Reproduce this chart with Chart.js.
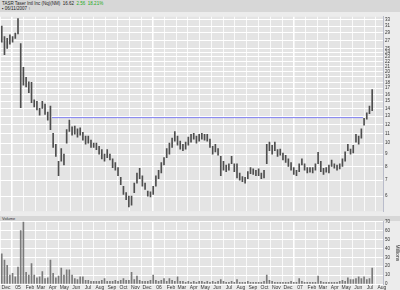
<!DOCTYPE html>
<html>
<head>
<meta charset="utf-8">
<script src="https://cdn.jsdelivr.net/npm/chart.js@4.4.1/dist/chart.umd.min.js"></script>
<style>
  html, body { margin: 0; padding: 0; width: 400px; height: 290px; overflow: hidden; background: #ececec; font-family: "Liberation Sans", Arial, sans-serif; }
  #head { position: absolute; left: 0; top: 0; width: 400px; height: 12px; background: #d7d7d7; color: #222; font-size: 4.5px; line-height: 5px; }
  #head .l1 { position: absolute; left: 2px; top: 1px; white-space: pre; }
  #head .l2 { position: absolute; left: 2px; top: 6px; white-space: pre; }
  #head .up { color: #22aa22; }
  #volbar { position: absolute; left: 0; top: 216px; width: 400px; height: 5px; background: #d7d7d7; font-size: 4px; line-height: 5px; color: #333; }
  #volbar span { position: absolute; left: 2px; top: 0; }
  .box { position: absolute; left: 0; width: 400px; }
  #pbox { top: 12px; height: 204px; }
  #vbox { top: 217px; height: 73px; }
</style>
</head>
<body>
<div id="head">
  <div class="l1">TASR Taser Intl Inc (Nq)(NM)  16.62  <span class="up">2.56  18.21%</span></div>
  <div class="l2">▪ 06/11/2007 ↑</div>
</div>
<div class="box" id="pbox"><canvas id="price"></canvas></div>
<div id="volbar"><span>Volume</span></div>
<div class="box" id="vbox"><canvas id="volume"></canvas></div>
<script>
// weekly bars, x in days from 1 Jan 2005; first week is 19 Nov 2004
const firstWeek = -42;

const priceLow = [
  26.5, 23.5, 25, 26, 26.5, 27.5, 28.7, 14.1, 17.5, 17.2,
  16.3, 14.8, 14.2, 13.8, 13.1, 14.0, 13.2, 12.5, 11.4, 9.6,
  8.8, 7.3, 8.4, 8.1, 10.0, 11.2, 10.8, 10.9, 10.6, 10.8,
  10.3, 9.9, 10.0, 9.6, 9.6, 9.4, 9.0, 8.6, 8.4, 8.7,
  8.5, 7.9, 7.7, 7.3, 6.7, 6.1, 5.8, 5.4, 5.5, 6.2,
  6.8, 7.1, 6.6, 6.4, 6.0, 5.95, 6.1, 6.6, 7.1, 7.5,
  8.1, 8.7, 9.0, 9.6, 10.2, 9.8, 9.45, 9.3, 9.45, 9.8,
  10.1, 10.4, 10.0, 10.2, 10.4, 10.3, 10.2, 9.6, 9.0, 9.2,
  8.9, 7.3, 7.7, 7.6, 7.7, 8.2, 7.6, 7.15, 7.0, 6.9,
  6.8, 7.1, 7.45, 7.4, 7.3, 7.3, 7.1, 7.15, 8.2, 9.3,
  9.0, 9.3, 8.8, 8.9, 8.5, 8.3, 8.0, 7.7, 7.4, 7.3,
  7.6, 8.1, 7.7, 7.5, 7.55, 7.5, 7.7, 8.2, 7.6, 7.4,
  7.55, 7.5, 8.0, 7.85, 7.7, 7.8, 8.0, 8.4, 9.3, 9.0,
  9.1, 10.1, 9.9, 10.5, 11.9, 12.6, 13.3, 13.7
];
const priceHigh = [
  31, 28, 27.5, 28.5, 28, 29, 33.3, 26.2, 20.8, 18.9,
  18.1, 18.0, 15.2, 15, 14.0, 15, 14.6, 13.5, 14.3, 11.0,
  9.9, 8.4, 9.5, 9.0, 11.4, 12.5, 11.7, 11.8, 11.5, 11.6,
  11.1, 10.7, 10.7, 10.3, 10.0, 10.0, 9.7, 9.4, 9.0, 9.4,
  9.0, 8.6, 8.3, 7.9, 7.2, 6.6, 6.2, 6.0, 6.0, 6.8,
  7.5, 7.85, 7.3, 6.8, 6.3, 6.25, 6.6, 7.3, 7.7, 8.3,
  8.7, 9.5, 10.0, 10.5, 11.2, 10.7, 10.2, 9.9, 10.1, 10.6,
  10.9, 11.0, 10.7, 10.9, 11.0, 10.9, 10.9, 10.4, 9.7, 9.9,
  9.5, 8.8, 8.4, 8.1, 8.2, 8.8, 8.2, 8.2, 7.5, 7.25,
  7.2, 7.6, 7.9, 7.8, 7.7, 7.8, 7.5, 7.7, 9.9, 10.1,
  9.8, 10.1, 9.4, 9.45, 9.1, 8.9, 8.6, 8.3, 7.9, 7.7,
  8.2, 8.6, 8.2, 7.9, 7.9, 7.9, 8.2, 9.15, 8.4, 7.85,
  7.9, 8.1, 8.5, 8.2, 8.1, 8.2, 8.6, 9.2, 9.9, 9.45,
  9.8, 10.9, 10.7, 11.5, 12.7, 13.4, 14.3, 16.8
];
// volume, millions of shares
const volume = [
  34, 27, 21, 10, 12, 8, 19, 60, 70, 13,
  10, 23, 10, 7, 8, 14, 6, 7, 27, 12,
  7, 9, 18, 10, 16, 16, 10, 6, 5, 8,
  8, 4, 4, 3, 3, 3, 3, 4, 6, 3,
  3, 3, 4, 3, 4, 6, 4, 4, 13, 5,
  9, 4, 3, 3, 3, 4, 10, 4, 3, 4,
  6, 3, 6, 4, 3, 8, 3, 3, 2, 3,
  2, 3, 2, 3, 3, 2, 3, 2, 3, 2,
  3, 5, 3, 2, 2, 3, 2, 5, 2, 2,
  2, 3, 2, 2, 2, 2, 2, 3, 10, 4,
  3, 2, 2, 2, 2, 2, 2, 3, 2, 2,
  6, 3, 2, 2, 2, 2, 2, 9, 3, 2,
  2, 2, 2, 2, 2, 3, 4, 3, 7, 5,
  5, 6, 8, 6, 8, 5, 6, 18
];

// horizontal resistance line
const lineDays = [88, 893];
const lineValues = [12.8, 12.8];

// month grid / labels (days from 1 Jan 2005)
const monthDays = [-31, 0, 31, 59, 90, 120, 151, 181, 212, 243, 273, 304, 334,
  365, 396, 424, 455, 485, 516, 546, 577, 608, 638, 669, 699,
  730, 761, 789, 820, 850, 881, 911, 942];
const monthLabels = ['Dec', '05', 'Feb', 'Mar', 'Apr', 'May', 'Jun', 'Jul', 'Aug', 'Sep', 'Oct', 'Nov', 'Dec',
  '06', 'Feb', 'Mar', 'Apr', 'May', 'Jun', 'Jul', 'Aug', 'Sep', 'Oct', 'Nov', 'Dec',
  '07', 'Feb', 'Mar', 'Apr', 'May', 'Jun', 'Jul', 'Aug'];
const yearDays = [0, 365, 730];

const priceTicks = [6, 7, 8, 9, 10, 11, 12, 13, 14, 15, 16, 17, 18, 19, 20, 21, 22, 23, 24, 25, 27, 29, 31, 33];
const volumeTicks = [0, 10, 20, 30, 40, 50, 60, 70];

const xMin = -46.6, xMax = 945;

const plotBg = {
  id: 'plotBg',
  beforeDraw(chart) {
    const { ctx, chartArea: a } = chart;
    ctx.save();
    ctx.fillStyle = '#e4e4e4';
    ctx.fillRect(a.left, a.top, a.right - a.left, a.bottom - a.top);
    ctx.restore();
  }
};

const tinyFont = { family: '"Liberation Sans", Arial, sans-serif', size: 5 };
const axisFont = { family: '"Liberation Sans", Arial, sans-serif', size: 4.5 };

function monthGrid(showLabels) {
  return {
    type: 'linear',
    min: xMin,
    max: xMax,
    offset: false,
    afterBuildTicks: s => { s.ticks = monthDays.map(v => ({ value: v })); },
    afterFit: s => { s.height = showLabels ? 6 : 0; },
    border: { display: false },
    grid: {
      drawTicks: false,
      color: c => yearDays.includes(c.tick && c.tick.value) ? '#ffffff' : 'rgba(255,255,255,0.8)',
      lineWidth: c => yearDays.includes(c.tick && c.tick.value) ? 1.6 : 1
    },
    ticks: {
      display: showLabels,
      autoSkip: false,
      maxRotation: 0,
      padding: 1,
      color: '#333',
      font: tinyFont,
      callback: v => monthLabels[monthDays.indexOf(v)] || ''
    }
  };
}

function rightAxis(extra) {
  return Object.assign({
    position: 'right',
    afterFit: s => { s.width = 17; },
    border: { display: true, color: '#b9bccb' },
    grid: { color: '#ffffff', drawTicks: false }
  }, extra);
}

new Chart(document.getElementById('price'), {
  type: 'bar',
  data: {
    datasets: [{
      type: 'line',
      data: lineDays.map((d, i) => ({ x: d, y: lineValues[i] })),
      borderColor: '#7f7ff0',
      borderWidth: 1,
      pointRadius: 0
    }, {
      data: priceLow.map((lo, i) => ({ x: firstWeek + 7 * i, y: [lo, priceHigh[i]] })),
      backgroundColor: '#4e4e4e',
      barThickness: 1,
      grouped: false
    }]
  },
  options: {
    responsive: true,
    maintainAspectRatio: false,
    animation: false,
    layout: { padding: 0 },
    plugins: { legend: { display: false }, tooltip: { enabled: false } },
    scales: {
      x: monthGrid(false),
      y: rightAxis({
        type: 'logarithmic',
        min: 5.18,
        max: 33.93,
        afterBuildTicks: s => { s.ticks = priceTicks.map(v => ({ value: v })); },
        ticks: { autoSkip: false, color: '#333', font: axisFont, padding: 2, callback: v => String(v) }
      })
    }
  },
  plugins: [plotBg]
});

new Chart(document.getElementById('volume'), {
  type: 'bar',
  data: {
    datasets: [{
      data: volume.map((v, i) => ({ x: firstWeek + 7 * i, y: v })),
      backgroundColor: '#7a7a7a',
      barThickness: 1
    }]
  },
  options: {
    responsive: true,
    maintainAspectRatio: false,
    animation: false,
    layout: { padding: { top: 4 } },
    plugins: { legend: { display: false }, tooltip: { enabled: false } },
    scales: {
      x: monthGrid(true),
      y: rightAxis({
        min: 0,
        max: 70,
        afterBuildTicks: s => { s.ticks = volumeTicks.map(v => ({ value: v })); },
        ticks: { autoSkip: false, color: '#333', font: axisFont, padding: 2 },
        title: { display: true, text: 'Millions', color: '#333', font: tinyFont, padding: 0 }
      })
    }
  },
  plugins: [plotBg]
});
</script>
</body>
</html>
